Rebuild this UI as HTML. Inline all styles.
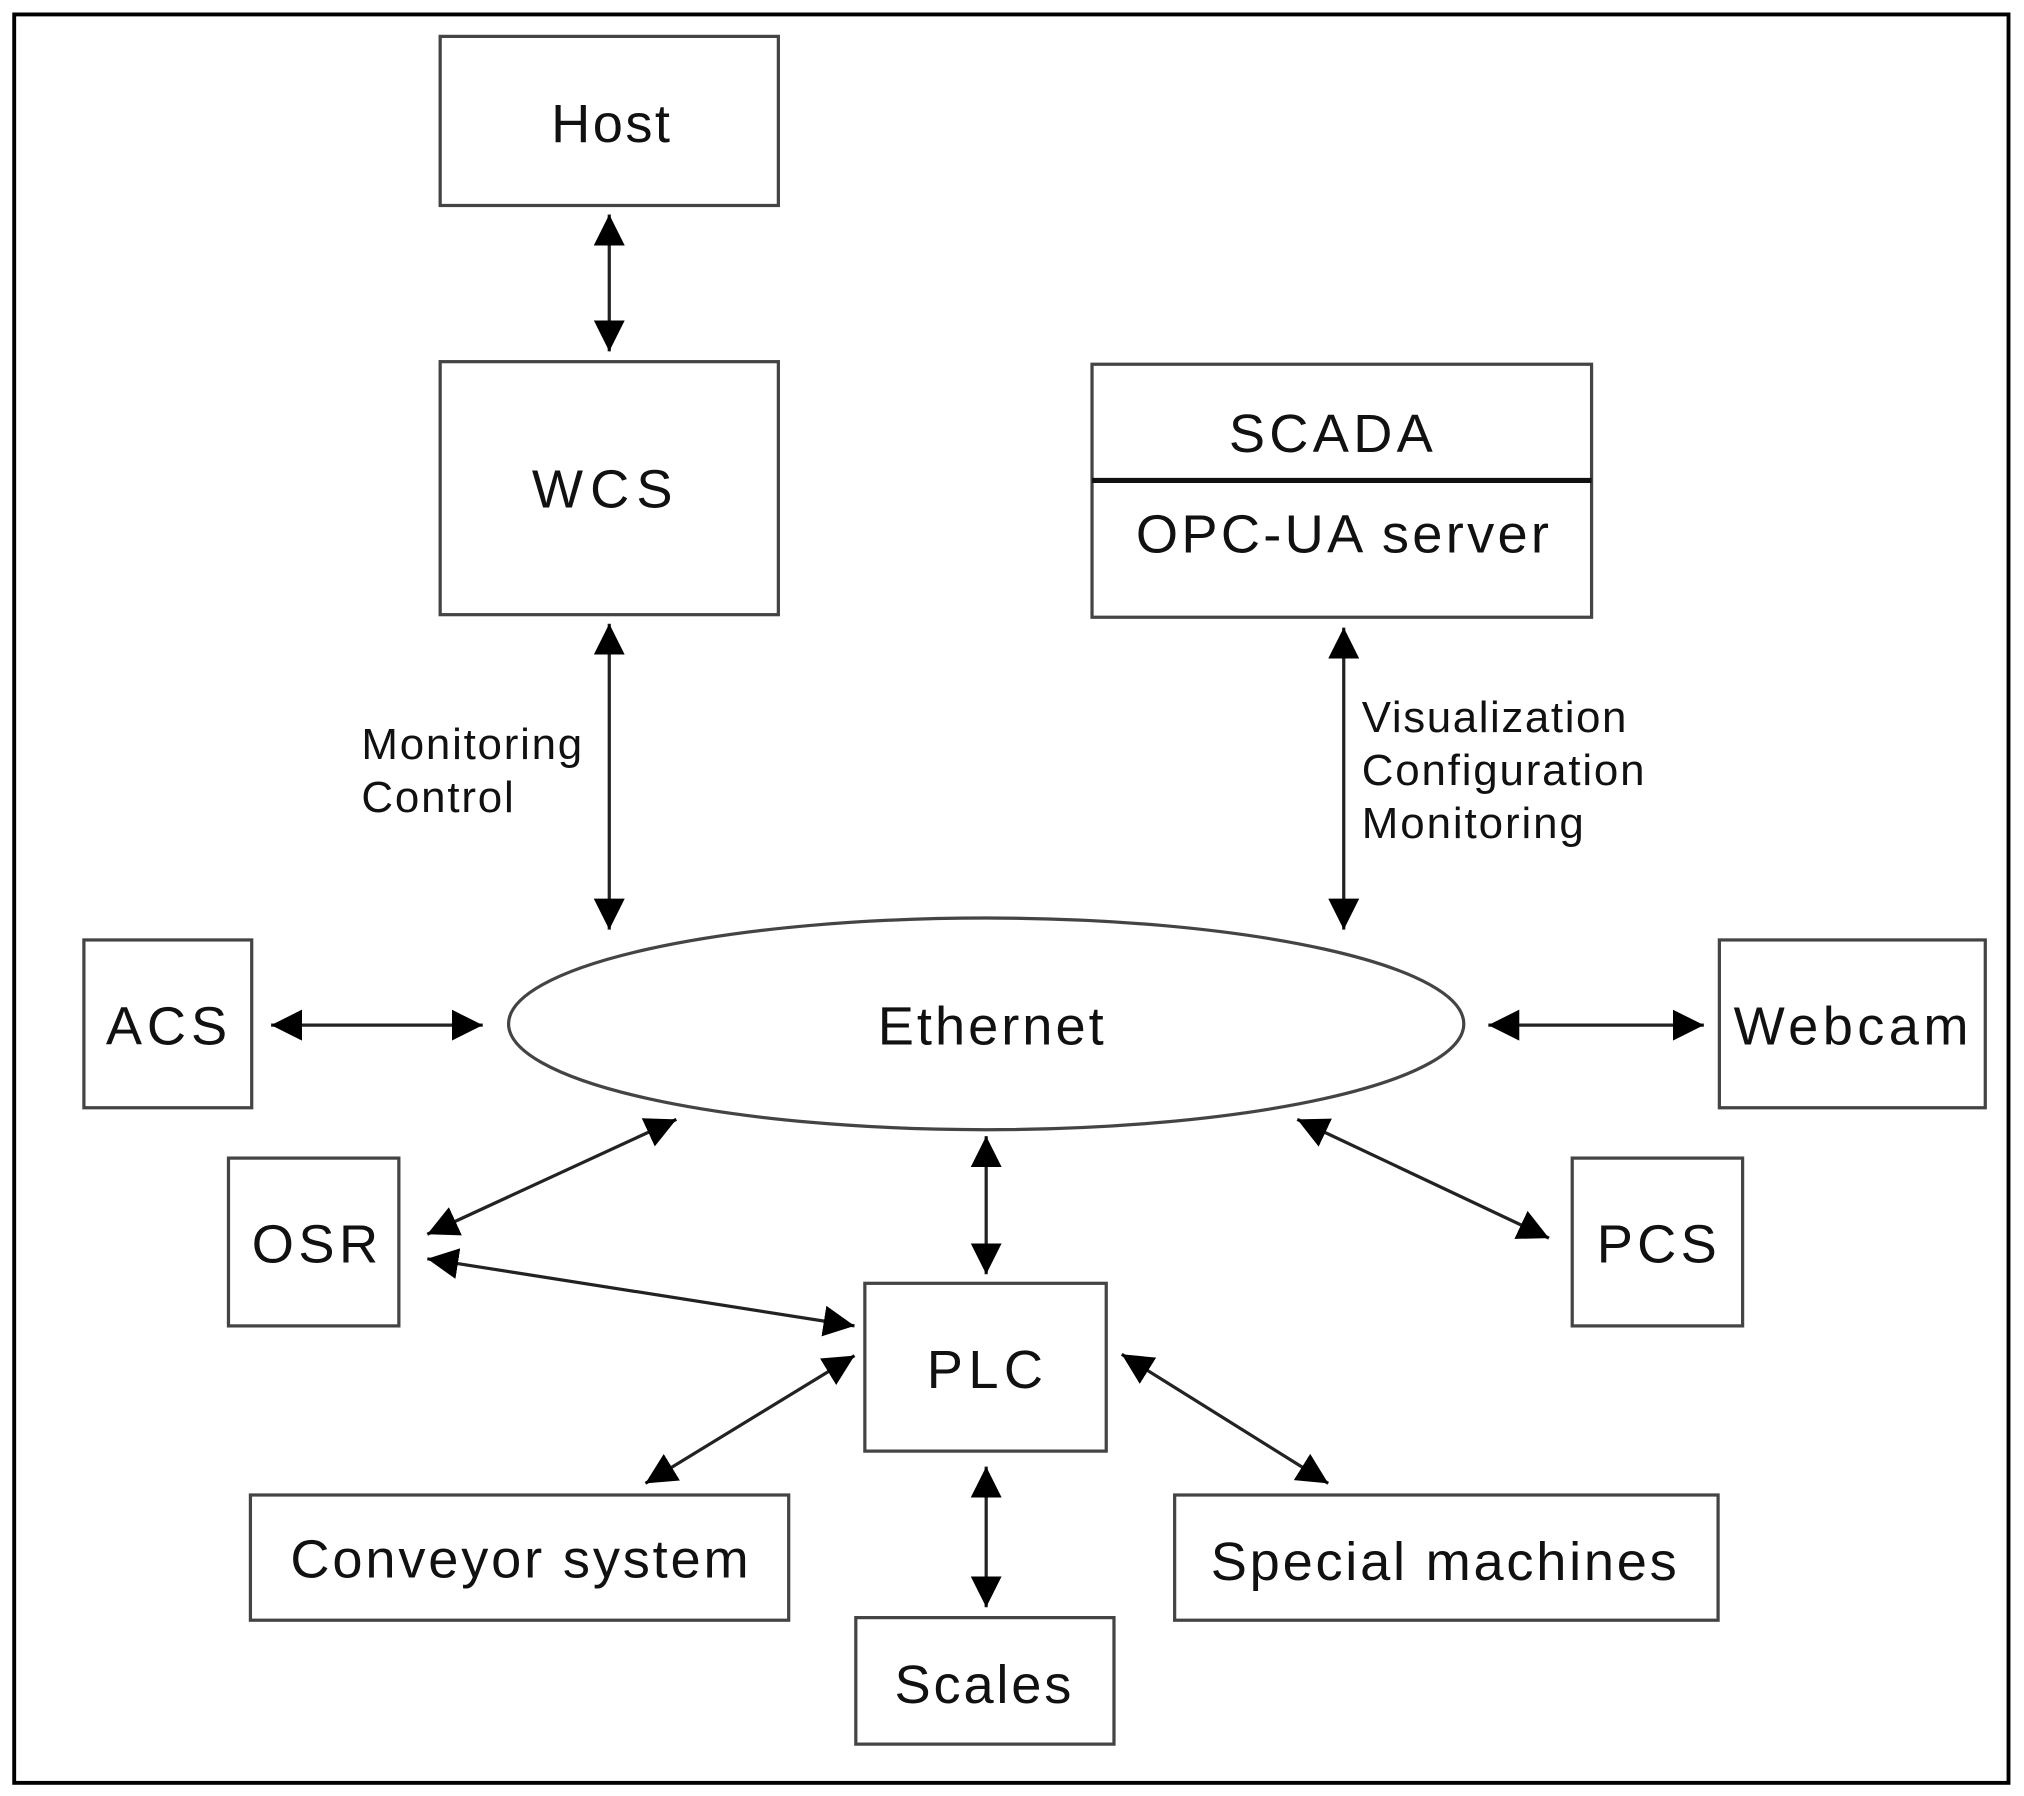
<!DOCTYPE html>
<html><head><meta charset="utf-8"><style>html,body{margin:0;padding:0;background:#fff}svg{display:block}</style></head>
<body>
<svg width="2024" height="1796" viewBox="0 0 1568 1391" xmlns="http://www.w3.org/2000/svg" font-family="Liberation Sans, Arial, sans-serif">
<defs>
<marker id="b" viewBox="0 0 10 10" refX="10" refY="5" markerWidth="24" markerHeight="24" markerUnits="userSpaceOnUse" orient="auto-start-reverse">
<path d="M0,0 L10,5 L0,10 z" fill="#000"/></marker>
</defs>
<rect x="0" y="0" width="1568" height="1391" fill="#fff"/>
<rect x="11" y="11" width="1545" height="1370" fill="none" stroke="#000" stroke-width="3"/>
<g fill="#fff" stroke="#444" stroke-width="2.5">
<rect x="341" y="28" width="262" height="131"/>
<rect x="341" y="280" width="262" height="196"/>
<rect x="846" y="282" width="387" height="196"/>
<rect x="65" y="728" width="130" height="130"/>
<rect x="1332" y="728" width="206" height="130"/>
<rect x="177" y="897" width="132" height="130"/>
<rect x="1218" y="897" width="132" height="130"/>
<rect x="670" y="994" width="187" height="130"/>
<rect x="194" y="1158" width="417" height="97"/>
<rect x="910" y="1158" width="421" height="97"/>
<rect x="663" y="1253" width="200" height="98"/>
<ellipse cx="764" cy="793" rx="370" ry="82"/>
</g>
<line x1="846" y1="372" x2="1233" y2="372" stroke="#111" stroke-width="4"/>
<g stroke="#222" stroke-width="2.5" marker-start="url(#b)" marker-end="url(#b)">
<line x1="472" y1="166" x2="472" y2="272"/>
<line x1="472" y1="483" x2="472" y2="720"/>
<line x1="1041" y1="486" x2="1041" y2="720"/>
<line x1="210" y1="794" x2="374" y2="794"/>
<line x1="1153" y1="794" x2="1320" y2="794"/>
<line x1="331" y1="956" x2="524" y2="867"/>
<line x1="1005" y1="867" x2="1200" y2="959"/>
<line x1="764" y1="880" x2="764" y2="987"/>
<line x1="331" y1="975" x2="662" y2="1027"/>
<line x1="500" y1="1149" x2="662" y2="1050"/>
<line x1="869" y1="1049" x2="1029" y2="1149"/>
<line x1="764" y1="1136" x2="764" y2="1245"/>
</g>
<g fill="#111" font-size="42" lengthAdjust="spacingAndGlyphs">
<text x="427" y="110" textLength="92">Host</text>
<text x="412" y="393" textLength="109">WCS</text>
<text x="952" y="350" textLength="158">SCADA</text>
<text x="880" y="428" textLength="320">OPC-UA server</text>
<text x="82" y="809" textLength="94">ACS</text>
<text x="1343" y="809" textLength="182">Webcam</text>
<text x="195" y="978" textLength="98">OSR</text>
<text x="1237" y="978" textLength="93">PCS</text>
<text x="718" y="1075" textLength="90">PLC</text>
<text x="225" y="1222" textLength="355">Conveyor system</text>
<text x="938" y="1224" textLength="361">Special machines</text>
<text x="693" y="1319" textLength="137">Scales</text>
<text x="680" y="809" textLength="175">Ethernet</text>
</g>
<g fill="#111" font-size="34" lengthAdjust="spacingAndGlyphs">
<text x="280" y="588" textLength="171">Monitoring</text>
<text x="280" y="629" textLength="118">Control</text>
<text x="1055" y="567" textLength="205">Visualization</text>
<text x="1055" y="608" textLength="219">Configuration</text>
<text x="1055" y="649" textLength="172">Monitoring</text>
</g>
</svg>
</body></html>
